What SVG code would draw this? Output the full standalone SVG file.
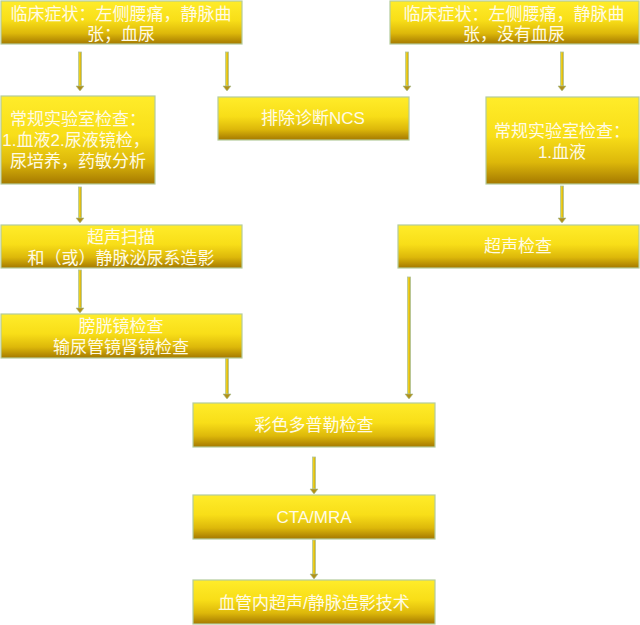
<svg xmlns="http://www.w3.org/2000/svg" width="640" height="625" viewBox="0 0 640 625">
<defs>
<linearGradient id="gold" x1="0" y1="0" x2="0" y2="1">
<stop offset="0" stop-color="#FFEC2A"/>
<stop offset="0.45" stop-color="#F8DE18"/>
<stop offset="0.75" stop-color="#DDB80A"/>
<stop offset="1" stop-color="#A47800"/>
</linearGradient>
<linearGradient id="shaft" x1="0" y1="0" x2="1" y2="0">
<stop offset="0" stop-color="#F2DC30"/>
<stop offset="0.5" stop-color="#E8C818"/>
<stop offset="1" stop-color="#C8A010"/>
</linearGradient>
</defs>
<style>
.box{fill:url(#gold);stroke:#B4CC9C;stroke-width:1.2}
.t{font-family:"Liberation Sans","Noto Sans CJK SC",sans-serif;font-size:17px;fill:#FFFBE6;text-anchor:middle}
.sh{fill:url(#shaft);stroke:#B0C49A;stroke-width:0.8}
.hd{fill:#B09018;stroke:#A8BC90;stroke-width:0.6}
</style>
<rect width="640" height="625" fill="#FFFFFF"/>
<g id="connectors">
<rect class="sh" x="78.5" y="52" width="3" height="34"/><path class="hd" d="M76,86 L84,86 L80,91 Z"/>
<rect class="sh" x="225.5" y="52" width="3" height="34"/><path class="hd" d="M223,86 L231,86 L227,91 Z"/>
<rect class="sh" x="405.5" y="52" width="3" height="34"/><path class="hd" d="M403,86 L411,86 L407,91 Z"/>
<rect class="sh" x="560.5" y="52" width="3" height="34"/><path class="hd" d="M558,86 L566,86 L562,91 Z"/>
<rect class="sh" x="78.5" y="187" width="3" height="31"/><path class="hd" d="M76,218 L84,218 L80,223 Z"/>
<rect class="sh" x="560.5" y="186" width="3" height="32"/><path class="hd" d="M558,218 L566,218 L562,223 Z"/>
<rect class="sh" x="78.5" y="270" width="3" height="38"/><path class="hd" d="M76,308 L84,308 L80,313 Z"/>
<rect class="sh" x="225.5" y="358" width="3" height="36"/><path class="hd" d="M223,394 L231,394 L227,399 Z"/>
<rect class="sh" x="407.5" y="277" width="3" height="117"/><path class="hd" d="M405,394 L413,394 L409,399 Z"/>
<rect class="sh" x="312.5" y="457" width="3" height="32"/><path class="hd" d="M310,489 L318,489 L314,494 Z"/>
<rect class="sh" x="312.5" y="540" width="3" height="35"/><path class="hd" d="M310,574 L318,574 L314,579 Z"/>
</g>
<g id="nodeA"><rect class="box" x="1" y="1" width="241" height="43"/>
<text class="t" x="121" y="20">临床症状：左侧腰痛，静脉曲</text><text class="t" x="121" y="40">张；血尿</text></g>
<g id="nodeB"><rect class="box" x="390" y="1" width="249" height="43"/>
<text class="t" x="514" y="20">临床症状：左侧腰痛，静脉曲</text><text class="t" x="514" y="40">张，没有血尿</text></g>
<g id="nodeC"><rect class="box" x="1" y="96" width="154" height="88"/>
<text class="t" x="78" y="125">常规实验室检查：</text><text class="t" x="76" y="146">1.血液2.尿液镜检，</text><text class="t" x="78" y="167">尿培养，药敏分析</text></g>
<g id="nodeD"><rect class="box" x="218" y="97" width="191" height="43"/>
<text class="t" x="313" y="124">排除诊断NCS</text></g>
<g id="nodeE"><rect class="box" x="486" y="97" width="153" height="87"/>
<text class="t" x="562" y="137">常规实验室检查：</text><text class="t" x="562" y="158">1.血液</text></g>
<g id="nodeF"><rect class="box" x="398" y="225" width="241" height="43"/>
<text class="t" x="518" y="252">超声检查</text></g>
<g id="nodeG"><rect class="box" x="1" y="225" width="241" height="43"/>
<text class="t" x="121" y="243">超声扫描</text><text class="t" x="121" y="264">和（或）静脉泌尿系造影</text></g>
<g id="nodeH"><rect class="box" x="1" y="314" width="241" height="44"/>
<text class="t" x="121" y="332">膀胱镜检查</text><text class="t" x="121" y="353">输尿管镜肾镜检查</text></g>
<g id="nodeI"><rect class="box" x="193" y="403" width="242" height="44"/>
<text class="t" x="314" y="431">彩色多普勒检查</text></g>
<g id="nodeJ"><rect class="box" x="193" y="495" width="242" height="44"/>
<text class="t" x="314" y="523">CTA/MRA</text></g>
<g id="nodeK"><rect class="box" x="193" y="580" width="242" height="44"/>
<text class="t" x="314" y="609">血管内超声/静脉造影技术</text></g>
</svg>
